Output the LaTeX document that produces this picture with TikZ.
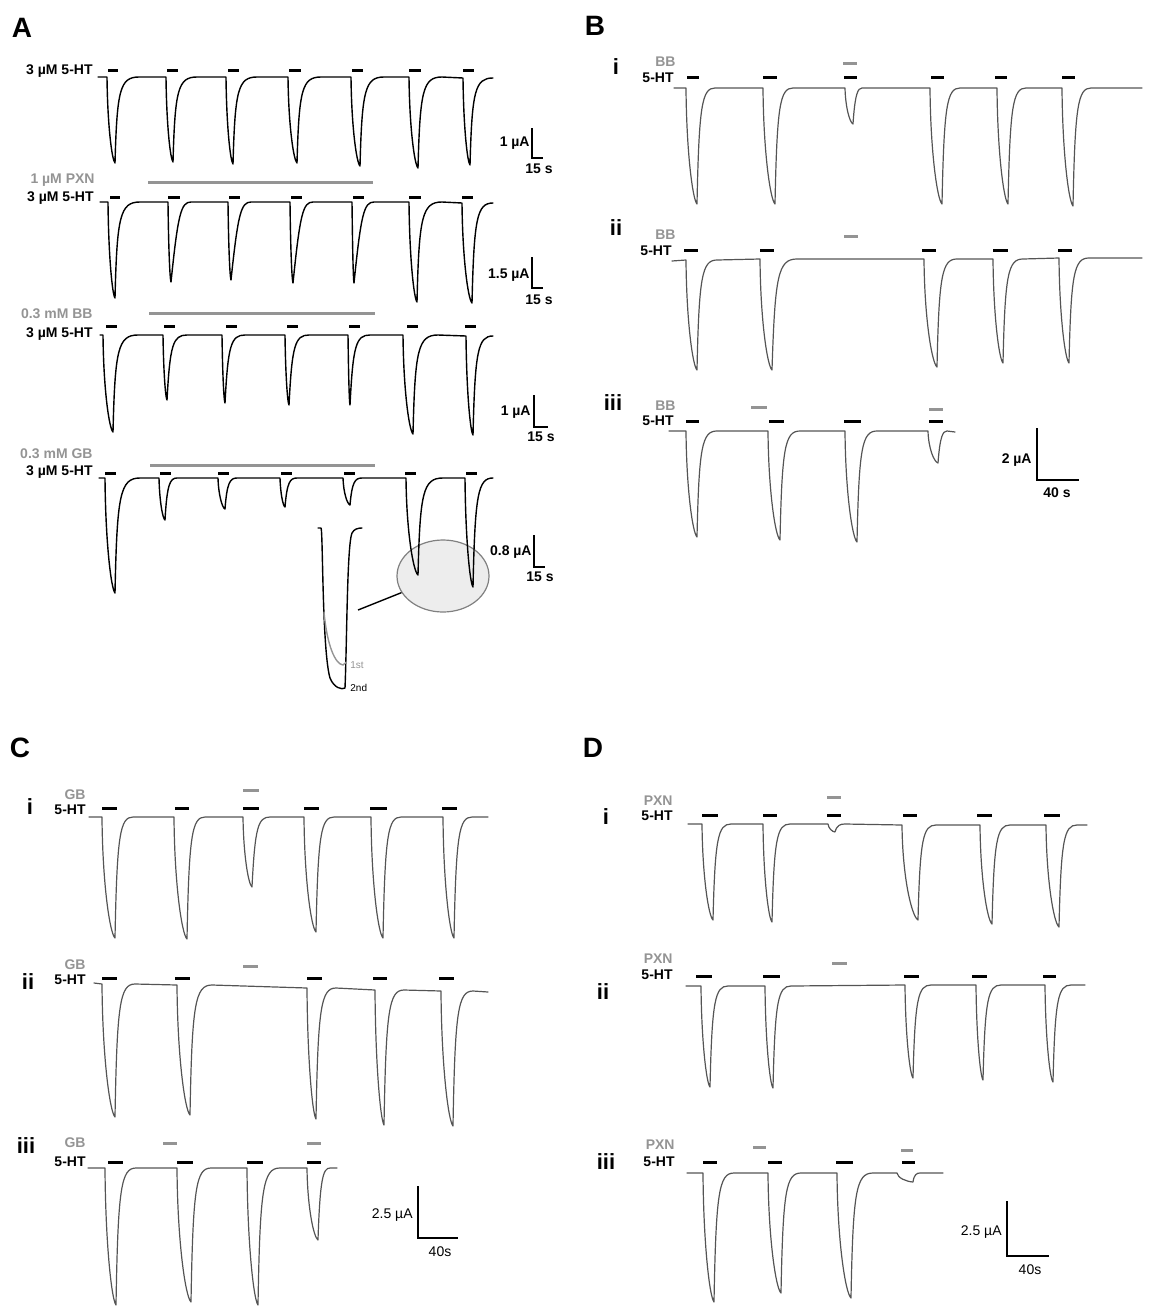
\documentclass[tikz,border=0pt]{standalone}
\usepackage{fontspec}
\setmainfont{Liberation Sans}
\usetikzlibrary{shapes.geometric}

\definecolor{druggray}{gray}{0.58}
\definecolor{tracegray}{gray}{0.33}
\definecolor{zoomfill}{gray}{0.93}

% one inward current: onset x, baseline y, min x, min y, recovery width, slant of rise
\newcommand{\pulse}[6]{%
  -- (#1,#2)
  .. controls ({#1+0.5},{#2+0.55*(#4-#2)}) and ({#3-0.4*(#3-#1)},{#4-0.04*(#4-#2)}) .. (#3,#4)
  .. controls ({#3+#6},{#2+0.15*(#4-#2)}) and ({#3+#6+3},{#2}) .. ({#3+#5},#2)}

\tikzset{
  trace/.style={line width=0.7pt, line join=round, line cap=round},
  traceB/.style={trace, line width=0.6pt, draw=tracegray},
  puff/.style={line width=1.5pt},
  drugbar/.style={line width=1.5pt, draw=druggray},
  lbl/.style={inner sep=0pt, anchor=east, text depth=0pt, font=\bfseries\fontsize{7}{8}\selectfont},
  druglbl/.style={lbl, text=druggray},
  panel/.style={inner sep=0pt, font=\bfseries\fontsize{14}{16}\selectfont},
  roman/.style={inner sep=0pt, font=\bfseries\fontsize{11}{13}\selectfont},
  scalebar/.style={line width=0.8pt},
  scalelbl/.style={inner sep=0pt, font=\bfseries\fontsize{7}{8}\selectfont},
  scalelbl2/.style={inner sep=0pt, font=\fontsize{7}{8}\selectfont},
}

\begin{document}
\begin{tikzpicture}[x=0.5pt, y=-0.5pt]
	\useasboundingbox (0,0) rectangle (1148,1307);

	% ---------------- panel A ----------------
	\node[panel] (A) at (22,28) {A};

	\node[lbl] (a1ht) at (93,70) {3 µM 5-HT};
	\node[druglbl] (a2drug) at (95,179) {1 µM PXN};
	\node[lbl] (a2ht) at (94,197) {3 µM 5-HT};
	\node[druglbl] (a3drug) at (93,314) {0.3 mM BB};
	\node[lbl] (a3ht) at (93,333) {3 µM 5-HT};
	\node[druglbl] (a4drug) at (93,454) {0.3 mM GB};
	\node[lbl] (a4ht) at (93,471) {3 µM 5-HT};

	\draw[drugbar] (148,182) -- (373,182);
	\draw[drugbar] (149,313) -- (375,313);
	\draw[drugbar] (150,465) -- (375,465);

	\foreach \a/\b in {108/118, 167/178, 228/239, 289/301, 352/363, 409/421, 463/474}
		\draw[puff] (\a,70) -- (\b,70);
	\foreach \a/\b in {110/120, 168/180, 229/240, 291/302, 353/364, 409/421, 462/473}
		\draw[puff] (\a,197) -- (\b,197);
	\foreach \a/\b in {106/117, 164/175, 226/237, 287/298, 349/360, 407/418, 465/476}
		\draw[puff] (\a,326) -- (\b,326);
	\foreach \a/\b in {105/116, 160/171, 218/229, 281/292, 344/355, 405/416, 466/477}
		\draw[puff] (\a,473) -- (\b,473);

	% magnified region
	\node[ellipse, draw=gray, fill=zoomfill, line width=0.6pt, minimum width=46pt, minimum height=36pt] (zoomA) at (443,576) {};

	\draw[trace] (98,77) \pulse{107}{77}{115}{163}{24}{2} \pulse{166}{77}{173}{162}{24}{2} \pulse{226}{77}{233}{164}{24}{2} \pulse{288}{77}{297}{163}{24}{2} \pulse{351}{77}{360}{166}{24}{2} \pulse{409}{77}{418}{168}{24}{2} \pulse{463}{78}{470}{165}{23}{2};
	\draw[trace] (100,202) \pulse{108}{202}{115}{298}{25}{2} \pulse{168}{202}{171}{282}{20}{7} \pulse{228}{202}{231}{280}{20}{7} \pulse{290}{202}{293}{283}{20}{7} \pulse{352}{202}{354}{283}{20}{7} \pulse{409}{202}{417}{302}{25}{2} \pulse{462}{203}{472}{303}{21}{2};
	\draw[trace] (100,335) \pulse{103}{335}{113}{432}{25}{2} \pulse{163}{335}{167}{400}{20}{3} \pulse{222}{335}{225}{403}{20}{3} \pulse{285}{335}{289}{405}{20}{3} \pulse{348}{335}{350}{405}{20}{3} \pulse{403}{335}{413}{434}{25}{2} \pulse{466}{336}{473}{435}{20}{2};
	\draw[trace] (99,478) \pulse{105}{478}{115}{593}{25}{2} \pulse{159}{478}{165}{520}{12}{2} \pulse{218}{478}{225}{509}{12}{2} \pulse{280}{478}{285}{507}{12}{2} \pulse{343}{478}{350}{505}{12}{2} \pulse{406}{478}{418}{575}{25}{2} \pulse{465}{478}{473}{587}{20}{2};

	% inset: 1st and 2nd response
	\draw[trace] (318,528) -- (321,528) .. controls (323,530) and (322,650) .. (330,678) .. controls (334,688) and (342,690) .. (345,688) .. controls (347,640) and (347,545) .. (352,533) .. controls (354,529) and (358,528) .. (362,528);
	\draw[trace, draw=druggray] (324,612) .. controls (327,645) and (335,664) .. (343,665) -- (346.5,662);
	\node[inner sep=0pt, anchor=west, text=druggray, font=\fontsize{5}{6}\selectfont] (first) at (350,665) {1st};
	\node[inner sep=0pt, anchor=west, font=\fontsize{5}{6}\selectfont] (second) at (350,688) {2nd};
	\coordinate (insetA) at (358,610);
	\draw[line width=0.7pt] (insetA) -- (zoomA);

	% scale bars
	\draw[scalebar] (532,128) -- (532,158) -- (543,158);
	\node[scalelbl, anchor=east] (s1y) at (530,143) {1 µA};
	\node[scalelbl] (s1x) at (539,169) {15 s};
	\draw[scalebar] (532,257) -- (532,288) -- (543,288);
	\node[scalelbl, anchor=east] (s2y) at (530,275) {1.5 µA};
	\node[scalelbl] (s2x) at (539,300) {15 s};
	\draw[scalebar] (534,395) -- (534,427) -- (548,427);
	\node[scalelbl, anchor=east] (s3y) at (531,412) {1 µA};
	\node[scalelbl] (s3x) at (541,437) {15 s};
	\draw[scalebar] (534,535) -- (534,567) -- (545,567);
	\node[scalelbl, anchor=east] (s4y) at (532,552) {0.8 µA};
	\node[scalelbl] (s4x) at (540,577) {15 s};

	% ---------------- panel B ----------------
	\node[panel] (B) at (595,26) {B};
	\node[roman] (Bi) at (616,67) {i};
	\node[roman] (Bii) at (616,228) {ii};
	\node[roman] (Biii) at (613,403) {iii};

	\node[druglbl] (b1drug) at (676,62) {BB};
	\node[lbl] (b1ht) at (674,78) {5-HT};
	\node[druglbl] (b2drug) at (676,235) {BB};
	\node[lbl] (b2ht) at (672,251) {5-HT};
	\node[druglbl] (b3drug) at (676,406) {BB};
	\node[lbl] (b3ht) at (674,421) {5-HT};

	\draw[drugbar] (843,63) -- (857,63);
	\draw[drugbar] (844,236) -- (858,236);
	\draw[drugbar] (751,407) -- (767,407);
	\draw[drugbar] (929,409) -- (943,409);
	\foreach \a/\b in {687/699, 763/777, 844/857, 931/944, 995/1007, 1062/1075}
		\draw[puff] (\a,77) -- (\b,77);
	\foreach \a/\b in {684/698, 760/774, 922/936, 993/1008, 1058/1072}
		\draw[puff] (\a,250) -- (\b,250);
	\foreach \a/\b in {686/699, 769/784, 844/861, 929/943}
		\draw[puff] (\a,421) -- (\b,421);

	\draw[traceB] (674,88) \pulse{686}{88}{697}{204}{18}{2} \pulse{763}{88}{775}{204}{18}{2} \pulse{845}{88}{853}{124}{9}{2} \pulse{930}{88}{942}{204}{18}{2} \pulse{997}{88}{1008}{204}{18}{2} \pulse{1062}{88}{1073}{206}{18}{2} -- (1142,88);
	\draw[traceB] (672,261) \pulse{686}{260}{697}{370}{20}{2} \pulse{760}{259}{772}{370}{25}{3} \pulse{924}{259}{937}{367}{20}{2} \pulse{993}{259}{1003}{363}{20}{2} \pulse{1059}{258}{1069}{363}{20}{2} -- (1142,258);
	\draw[traceB] (669,431) \pulse{686}{431}{697}{537}{20}{2} \pulse{768}{431}{780}{540}{20}{2} \pulse{845}{431}{857}{542}{20}{2} \pulse{928}{431}{938}{463}{9}{2} -- (955,432);

	\draw[scalebar, line width=1.2pt] (1037,428) -- (1037,480) -- (1079,480);
	\node[scalelbl, anchor=east] (sBy) at (1032,460) {2 µA};
	\node[scalelbl] (sBx) at (1057,493) {40 s};

	% ---------------- panel C ----------------
	\node[panel] (C) at (20,748) {C};
	\node[roman] (Ci) at (30,807) {i};
	\node[roman] (Cii) at (28,982) {ii};
	\node[roman] (Ciii) at (26,1146) {iii};

	\node[druglbl] (c1drug) at (86,795) {GB};
	\node[lbl] (c1ht) at (86,810) {5-HT};
	\node[druglbl] (c2drug) at (86,965) {GB};
	\node[lbl] (c2ht) at (86,980) {5-HT};
	\node[druglbl] (c3drug) at (86,1143) {GB};
	\node[lbl] (c3ht) at (86,1162) {5-HT};

	\draw[drugbar] (243,790) -- (259,790);
	\draw[drugbar] (243,966) -- (258,966);
	\draw[drugbar] (163,1143) -- (177,1143);
	\draw[drugbar] (307,1143) -- (321,1143);
	\foreach \a/\b in {102/117, 175/189, 243/259, 304/319, 370/387, 442/457}
		\draw[puff] (\a,808) -- (\b,808);
	\foreach \a/\b in {102/117, 175/190, 307/322, 373/387, 439/454}
		\draw[puff] (\a,978) -- (\b,978);
	\foreach \a/\b in {108/123, 177/193, 247/263, 307/321}
		\draw[puff] (\a,1162) -- (\b,1162);

	\draw[traceB] (89,817) \pulse{102}{817}{115}{938}{18}{2} \pulse{174}{817}{187}{939}{18}{2} \pulse{243}{817}{252}{887}{18}{3} \pulse{304}{817}{316}{932}{18}{2} \pulse{371}{817}{383}{938}{18}{2} \pulse{443}{817}{454}{938}{18}{2} -- (488,817);
	\draw[traceB] (94,983) \pulse{102}{984}{115}{1117}{20}{2} \pulse{177}{985}{190}{1115}{22}{2} \pulse{307}{988}{316}{1119}{20}{2} \pulse{375}{990}{384}{1125}{20}{2} \pulse{441}{991}{453}{1126}{20}{2} -- (488,992);
	\draw[traceB] (88,1168) \pulse{105}{1168}{116}{1305}{20}{2} \pulse{177}{1168}{191}{1302}{20}{2} \pulse{247}{1168}{258}{1305}{22}{2} \pulse{307}{1168}{318}{1240}{12}{2} -- (337,1168);

	\draw[scalebar, line width=1pt] (418,1186) -- (418,1238) -- (458,1238);
	\node[scalelbl2, anchor=east] (sCy) at (413,1215) {2.5 µA};
	\node[scalelbl2] (sCx) at (440,1252) {40s};

	% ---------------- panel D ----------------
	\node[panel] (D) at (593,748) {D};
	\node[roman] (Di) at (606,817) {i};
	\node[roman] (Dii) at (603,992) {ii};
	\node[roman] (Diii) at (606,1162) {iii};

	\node[druglbl] (d1drug) at (673,801) {PXN};
	\node[lbl] (d1ht) at (673,816) {5-HT};
	\node[druglbl] (d2drug) at (673,959) {PXN};
	\node[lbl] (d2ht) at (673,975) {5-HT};
	\node[druglbl] (d3drug) at (675,1145) {PXN};
	\node[lbl] (d3ht) at (675,1162) {5-HT};

	\draw[drugbar] (827,797) -- (841,797);
	\draw[drugbar] (832,963) -- (847,963);
	\draw[drugbar] (753,1147) -- (766,1147);
	\draw[drugbar] (901,1150) -- (913,1150);
	\foreach \a/\b in {702/718, 763/777, 827/841, 903/917, 977/992, 1044/1060}
		\draw[puff] (\a,815) -- (\b,815);
	\foreach \a/\b in {696/712, 763/780, 904/919, 972/987, 1043/1056}
		\draw[puff] (\a,976) -- (\b,976);
	\foreach \a/\b in {703/717, 768/782, 836/853, 902/915}
		\draw[puff] (\a,1162) -- (\b,1162);

	\draw[traceB] (688,824) \pulse{702}{824}{713}{920}{18}{2} \pulse{763}{824}{772}{922}{18}{2} \pulse{828}{824}{835}{832}{10}{2} \pulse{902}{825}{918}{920}{18}{2} \pulse{980}{825}{992}{924}{18}{2} \pulse{1046}{825}{1059}{927}{18}{2} -- (1087,825);
	\draw[traceB] (686,986) \pulse{701}{986}{710}{1087}{18}{2} \pulse{765}{986}{773}{1088}{18}{2} \pulse{905}{985}{913}{1078}{18}{2} \pulse{976}{985}{983}{1080}{18}{2} \pulse{1045}{985}{1053}{1082}{18}{2} -- (1085,985);
	\draw[traceB] (687,1173) \pulse{703}{1173}{714}{1302}{20}{2} \pulse{768}{1173}{781}{1293}{20}{2} \pulse{837}{1173}{851}{1298}{22}{2} \pulse{897}{1173}{913}{1182}{7}{1} -- (943,1173);

	\draw[scalebar, line width=1pt] (1007,1201) -- (1007,1256) -- (1049,1256);
	\node[scalelbl2, anchor=east] (sDy) at (1002,1232) {2.5 µA};
	\node[scalelbl2] (sDx) at (1030,1270) {40s};
\end{tikzpicture}
\end{document}
